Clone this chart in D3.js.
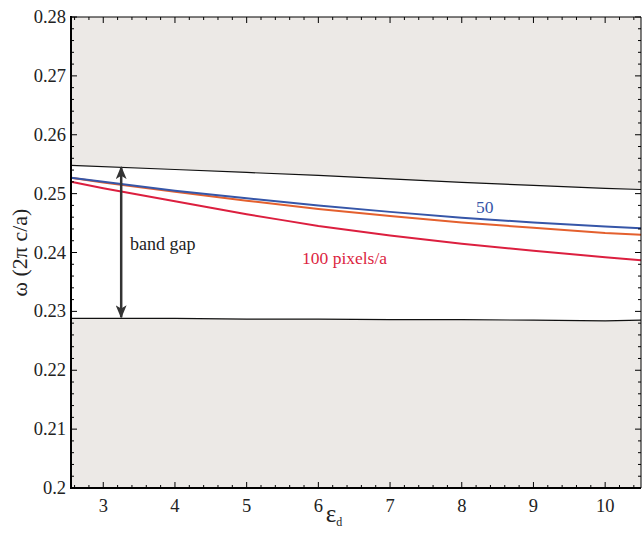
<!DOCTYPE html>
<html>
<head>
<meta charset="utf-8">
<script src="https://cdn.jsdelivr.net/npm/d3@7"></script>
<style>
  body { margin: 0; background: #fff; }
  svg text { font-family: "Liberation Serif", serif; }
</style>
</head>
<body>
<svg id="chart" width="642" height="535"></svg>
<script>
// Band edges (black lines)
const upperEdge = [[2.55, 0.2548], [4, 0.2541], [5, 0.2536], [6, 0.2531], [7, 0.2525], [8, 0.2519], [9, 0.2514], [10, 0.2509], [10.5, 0.2507]];
const lowerEdge = [[2.55, 0.2288], [4, 0.2288], [5, 0.2287], [6, 0.2287], [7, 0.2286], [8, 0.2286], [9, 0.2285], [10, 0.2284], [10.5, 0.2285]];

// Resolution series
const res50 = [[2.55, 0.2527], [3, 0.2520], [4, 0.2505], [5, 0.2492], [6, 0.2480], [7, 0.2469], [8, 0.2459], [9, 0.2451], [10, 0.2444], [10.5, 0.2441]];
const resMid = [[2.55, 0.2527], [3, 0.2519], [4, 0.2503], [5, 0.2488], [6, 0.2474], [7, 0.2462], [8, 0.2451], [9, 0.2442], [10, 0.2433], [10.5, 0.2430]];
const res100 = [[2.55, 0.2520], [3, 0.2509], [3.5, 0.2498], [4, 0.2487], [4.5, 0.2476], [5, 0.2465], [5.5, 0.2455], [6, 0.2445], [7, 0.2429], [8, 0.2415], [9, 0.2403], [10, 0.2392], [10.5, 0.2387]];

const xTicks = [3, 4, 5, 6, 7, 8, 9, 10];
const yTicks = [0.2, 0.21, 0.22, 0.23, 0.24, 0.25, 0.26, 0.27, 0.28];

const svg = d3.select("#chart");
const mLeft = 71, mRight = 641, mTop = 17, mBottom = 488;

const x = d3.scaleLinear().domain([2.55, 10.5]).range([mLeft, mRight]);
const y = d3.scaleLinear().domain([0.2, 0.28]).range([mBottom, mTop]);

const line = d3.line().x(d => x(d[0])).y(d => y(d[1]));

// gray regions outside the gap
svg.append("rect")
  .attr("x", mLeft).attr("y", mTop)
  .attr("width", mRight - mLeft).attr("height", mBottom - mTop)
  .attr("fill", "#ece9e6");

const gapArea = d3.area()
  .x(d => x(d[0]))
  .y0((d, i) => y(lowerEdge[i][1]))
  .y1(d => y(d[1]));
svg.append("path").datum(upperEdge).attr("d", gapArea).attr("fill", "#fff");

svg.append("path").datum(upperEdge).attr("d", line)
  .attr("fill", "none").attr("stroke", "#111").attr("stroke-width", 1.2);
svg.append("path").datum(lowerEdge).attr("d", line)
  .attr("fill", "none").attr("stroke", "#111").attr("stroke-width", 1.2);

// series
svg.append("path").datum(resMid).attr("d", line)
  .attr("fill", "none").attr("stroke", "#e4602e").attr("stroke-width", 2);
svg.append("path").datum(res50).attr("d", line)
  .attr("fill", "none").attr("stroke", "#3656a8").attr("stroke-width", 2);
svg.append("path").datum(res100).attr("d", line)
  .attr("fill", "none").attr("stroke", "#dc1f3f").attr("stroke-width", 2);

// band gap arrow
const defs = svg.append("defs");
defs.append("marker")
  .attr("id", "head").attr("viewBox", "0 0 12 10")
  .attr("refX", 11).attr("refY", 5)
  .attr("markerWidth", 13).attr("markerHeight", 11)
  .attr("markerUnits", "userSpaceOnUse")
  .attr("orient", "auto-start-reverse")
  .append("path").attr("d", "M0,0 L12,5 L0,10 L3,5 Z").attr("fill", "#333");

svg.append("line")
  .attr("x1", x(3.25)).attr("x2", x(3.25))
  .attr("y1", y(0.2290)).attr("y2", y(0.2545))
  .attr("stroke", "#333").attr("stroke-width", 2.5)
  .attr("marker-start", "url(#head)").attr("marker-end", "url(#head)");

svg.append("text").attr("x", 130).attr("y", 250)
  .attr("font-size", 18).attr("fill", "#222").text("band gap");
svg.append("text").attr("x", 476).attr("y", 213)
  .attr("font-size", 17.5).attr("fill", "#3656a8").text("50");
svg.append("text").attr("x", 302).attr("y", 264)
  .attr("font-size", 17.5).attr("fill", "#dc1f3f").text("100 pixels/a");

// axes with inward ticks
const minorX = d3.range(2.6, 10.5, 0.2).filter(v => Math.abs(v - Math.round(v)) > 0.01);
const minorY = d3.range(0.202, 0.28, 0.002).filter(v => Math.abs(v * 100 - Math.round(v * 100)) > 0.01);

const g = svg.append("g").attr("stroke", "#000");
xTicks.forEach(v => {
  g.append("line").attr("x1", x(v)).attr("x2", x(v)).attr("y1", mBottom).attr("y2", mBottom - 6);
  g.append("line").attr("x1", x(v)).attr("x2", x(v)).attr("y1", mTop).attr("y2", mTop + 6);
});
minorX.forEach(v => {
  g.append("line").attr("x1", x(v)).attr("x2", x(v)).attr("y1", mBottom).attr("y2", mBottom - 3);
  g.append("line").attr("x1", x(v)).attr("x2", x(v)).attr("y1", mTop).attr("y2", mTop + 3);
});
yTicks.forEach(v => {
  g.append("line").attr("x1", mLeft).attr("x2", mLeft + 6).attr("y1", y(v)).attr("y2", y(v));
  g.append("line").attr("x1", mRight).attr("x2", mRight - 6).attr("y1", y(v)).attr("y2", y(v));
});
minorY.forEach(v => {
  g.append("line").attr("x1", mLeft).attr("x2", mLeft + 3).attr("y1", y(v)).attr("y2", y(v));
  g.append("line").attr("x1", mRight).attr("x2", mRight - 3).attr("y1", y(v)).attr("y2", y(v));
});

// frame
svg.append("line").attr("x1", mLeft).attr("x2", mRight).attr("y1", mTop).attr("y2", mTop)
  .attr("stroke", "#000").attr("stroke-width", 1);
svg.append("line").attr("x1", mRight).attr("x2", mRight).attr("y1", mTop).attr("y2", mBottom)
  .attr("stroke", "#000").attr("stroke-width", 1);
svg.append("line").attr("x1", mLeft).attr("x2", mRight).attr("y1", mBottom).attr("y2", mBottom)
  .attr("stroke", "#000").attr("stroke-width", 2);
svg.append("line").attr("x1", mLeft).attr("x2", mLeft).attr("y1", mTop - 1).attr("y2", mBottom + 1)
  .attr("stroke", "#000").attr("stroke-width", 2);

// tick labels
svg.selectAll(".xl").data(xTicks).join("text")
  .attr("x", d => x(d)).attr("y", mBottom + 24)
  .attr("text-anchor", "middle").attr("font-size", 18.5).attr("fill", "#222")
  .text(d => d);
svg.selectAll(".yl").data(yTicks).join("text")
  .attr("x", 66).attr("y", d => y(d) + 6)
  .attr("text-anchor", "end").attr("font-size", 18.5).attr("fill", "#222")
  .text(d => d3.format("")(d));

// axis titles
svg.append("text")
  .attr("transform", `translate(27,${(mTop + mBottom) / 2}) rotate(-90)`)
  .attr("text-anchor", "middle").attr("font-size", 22).attr("fill", "#222")
  .text("ω (2π c/a)");
const xt = svg.append("text").attr("x", 334).attr("y", 522)
  .attr("text-anchor", "middle").attr("fill", "#222");
xt.append("tspan").attr("font-size", 25).text("ε");
xt.append("tspan").attr("font-size", 12).attr("dy", 4).text("d");
</script>
</body>
</html>
